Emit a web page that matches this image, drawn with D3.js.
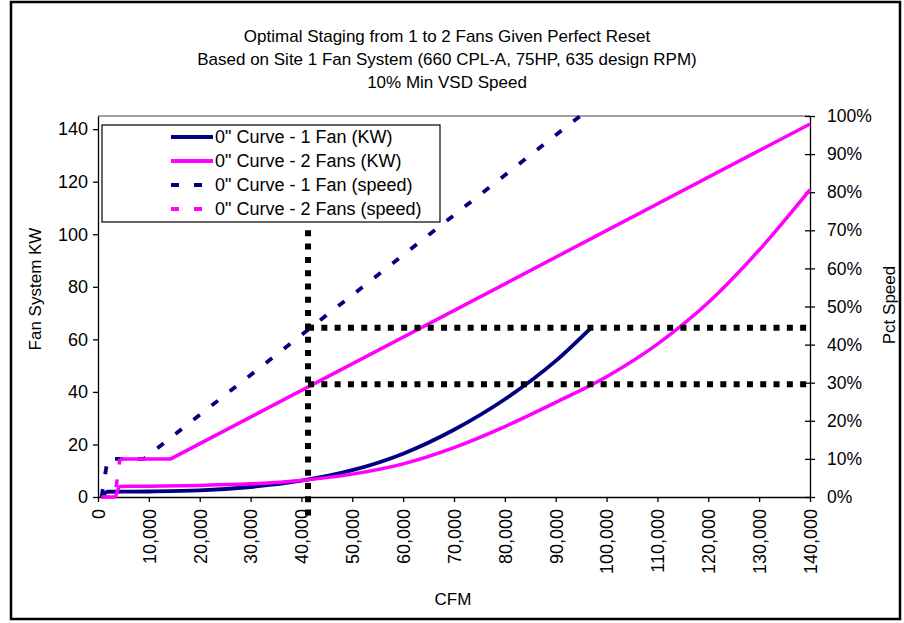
<!DOCTYPE html>
<html><head><meta charset="utf-8">
<script src="https://cdn.jsdelivr.net/npm/d3@7"></script>
<style>
body{margin:0;background:#fff}
svg{display:block}
text{font-family:"Liberation Sans",Arial,sans-serif;fill:#000}
</style>
</head><body>
<svg id="c" width="904" height="623"></svg>
<script>
// ---------- data ----------
const titleLines = [
  "Optimal Staging from 1 to 2 Fans Given Perfect Reset",
  "Based on Site 1 Fan System (660 CPL-A, 75HP, 635 design RPM)",
  "10% Min VSD Speed"
];
const xTicks = [0,10000,20000,30000,40000,50000,60000,70000,80000,90000,100000,110000,120000,130000,140000];
const kwTicks = [0,20,40,60,80,100,120,140];
const pctTicks = [0,0.1,0.2,0.3,0.4,0.5,0.6,0.7,0.8,0.9,1.0];
const seriesNames = [
  "0\" Curve - 1 Fan (KW)",
  "0\" Curve - 2 Fans (KW)",
  "0\" Curve - 1 Fan (speed)",
  "0\" Curve - 2 Fans (speed)"
];
// 1 fan KW
const cfmKW1 = [700, 1900, 10000, 20000, 30000, 40000, 50000, 60000, 70000, 80000, 90000, 97000];
const kw1    = [0,   2.0,  2.1,   2.5,   3.8,   6.2,   10.2,  16.5,  25.6,  37.2,  51.8,  64.5];
// 2 fans KW
const cfmKW2 = [700, 3300, 4300, 10000, 20000, 30000, 40000, 50000, 60000, 70000, 80000, 90000, 100000, 110000, 120000, 130000, 140000];
const kw2    = [0,   0,    4.0,  4.1,   4.4,   5.0,   6.3,   8.7,   12.6,  18.8,  26.8,  36.0,  45.8,   58.2,   74.0,   94.0,   117];
// 1 fan speed
const cfmSp1 = [700, 1900, 9000, 94800];
const sp1    = [0,   0.10, 0.10, 1.00];
// 2 fans speed
const cfmSp2 = [700, 3300, 4300, 14300, 140000];
const sp2    = [0,   0,    0.10, 0.10,  0.979];
// staging guide lines
const stageCFM = 41300;
const stageVertPct = [0.70, -0.05];
const stageHorizPct = [0.444, 0.296];
const stageHorizCFM = [41300, 140000];

// ---------- layout ----------
const M = {l:98, r:810, t:116, b:497};
const navy = "#000080", mag = "#FF00FF";
const svg = d3.select("#c");

svg.append("rect").attr("x",11).attr("y",2).attr("width",889).attr("height",617)
  .attr("fill","#fff").attr("stroke","#000").attr("stroke-width",2.5);

const x = d3.scaleLinear().domain([0,140000]).range([M.l,M.r]);
const yKW = d3.scaleLinear().domain([0,145]).range([M.b,M.t]);
const yP = d3.scaleLinear().domain([0,1]).range([M.b,M.t]);

// title
svg.append("g").selectAll("text").data(titleLines).join("text")
  .attr("x",447).attr("y",(d,i)=>36+i*23)
  .attr("text-anchor","middle").attr("dominant-baseline","central")
  .style("font-size","17px").text(d=>d);

// plot frame top (gray)
svg.append("line").attr("x1",M.l).attr("x2",M.r).attr("y1",M.t).attr("y2",M.t)
  .attr("stroke","#808080").attr("stroke-width",1.5);

// axes
const gx = svg.append("g").attr("transform",`translate(0,${M.b})`)
  .call(d3.axisBottom(x).tickValues(xTicks).tickSize(5).tickSizeOuter(0).tickFormat(d3.format(",")));
gx.selectAll("text").attr("transform","rotate(-90)").attr("text-anchor","end")
  .attr("x",-12).attr("y",0).attr("dy","0.35em").style("font-size","18px");

const gl = svg.append("g").attr("transform",`translate(${M.l},0)`)
  .call(d3.axisLeft(yKW).tickValues(kwTicks).tickSize(5).tickSizeOuter(0).tickPadding(5));
gl.selectAll("text").style("font-size","18px");

const gr = svg.append("g").attr("transform",`translate(${M.r},0)`)
  .call(d3.axisRight(yP).tickValues(pctTicks).tickSize(5).tickSizeOuter(0).tickPadding(12).tickFormat(d3.format(".0%")));
gr.selectAll("text").style("font-size","17.5px");
gr.selectAll(".tick").append("line").attr("x1",-5).attr("x2",0).attr("stroke","#000");

[gx,gl,gr].forEach(g=>{g.selectAll("path,line").attr("stroke","#000").attr("stroke-width",1.3);});

// axis titles
svg.append("text").attr("x",453).attr("y",599).attr("text-anchor","middle")
  .attr("dominant-baseline","central").style("font-size","17px").text("CFM");
svg.append("text").attr("transform","translate(35,289) rotate(-90)").attr("text-anchor","middle")
  .attr("dominant-baseline","central").style("font-size","17px").text("Fan System KW");
svg.append("text").attr("transform","translate(889,305) rotate(-90)").attr("text-anchor","middle")
  .attr("dominant-baseline","central").style("font-size","17px").text("Pct Speed");

// series
const lineKW = d3.line().x(d=>x(d[0])).y(d=>yKW(d[1])).curve(d3.curveMonotoneX);
const lineP = d3.line().x(d=>x(d[0])).y(d=>yP(d[1]));
const z = (a,b)=>a.map((v,i)=>[v,b[i]]);

svg.append("path").datum(z(cfmKW1,kw1)).attr("d",lineKW)
  .attr("fill","none").attr("stroke",navy).attr("stroke-width",3.8);
svg.append("path").datum(z(cfmKW2,kw2)).attr("d",lineKW)
  .attr("fill","none").attr("stroke",mag).attr("stroke-width",3.5);
svg.append("path").datum(z(cfmSp1,sp1)).attr("d",lineP)
  .attr("fill","none").attr("stroke",navy).attr("stroke-width",3.8).attr("stroke-dasharray","8,15");
const sp2pts = z(cfmSp2,sp2);
svg.append("path").datum(sp2pts.slice(0,3)).attr("d",lineP)
  .attr("fill","none").attr("stroke",mag).attr("stroke-width",3.5).attr("stroke-dasharray","8,15");
svg.append("path").datum(sp2pts.slice(2)).attr("d",lineP)
  .attr("fill","none").attr("stroke",mag).attr("stroke-width",3.5);

// staging guide lines (dotted black squares)
const dot = {"stroke":"#000","stroke-width":6,"stroke-dasharray":"6,7.3","fill":"none"};
const gs = svg.append("g");
gs.append("line").attr("x1",x(stageCFM)).attr("x2",x(stageCFM))
  .attr("y1",yP(stageVertPct[0])).attr("y2",yP(stageVertPct[1]));
gs.selectAll(".h").data(stageHorizPct).join("line")
  .attr("x1",x(stageHorizCFM[0])).attr("x2",x(stageHorizCFM[1]))
  .attr("y1",d=>yP(d)).attr("y2",d=>yP(d));
Object.entries(dot).forEach(([k,v])=>{gs.selectAll("line").attr(k,v);});

// legend
const lg = svg.append("g");
lg.append("rect").attr("x",102).attr("y",125).attr("width",338).attr("height",97)
  .attr("fill","#fff").attr("stroke","#000").attr("stroke-width",1.2);
const styles = [
  {c:navy,d:null},{c:mag,d:null},{c:navy,d:"8,15"},{c:mag,d:"8,15"}
];
const le = lg.selectAll(".e").data(seriesNames).join("g")
  .attr("transform",(d,i)=>`translate(0,${137+i*24})`);
le.append("line").attr("x1",171).attr("x2",213).attr("y1",0).attr("y2",0)
  .attr("stroke",(d,i)=>styles[i].c).attr("stroke-width",3.8)
  .attr("stroke-dasharray",(d,i)=>styles[i].d);
le.append("text").attr("x",215).attr("y",0).attr("dominant-baseline","central")
  .style("font-size","18px").text(d=>d);
</script>
</body></html>
